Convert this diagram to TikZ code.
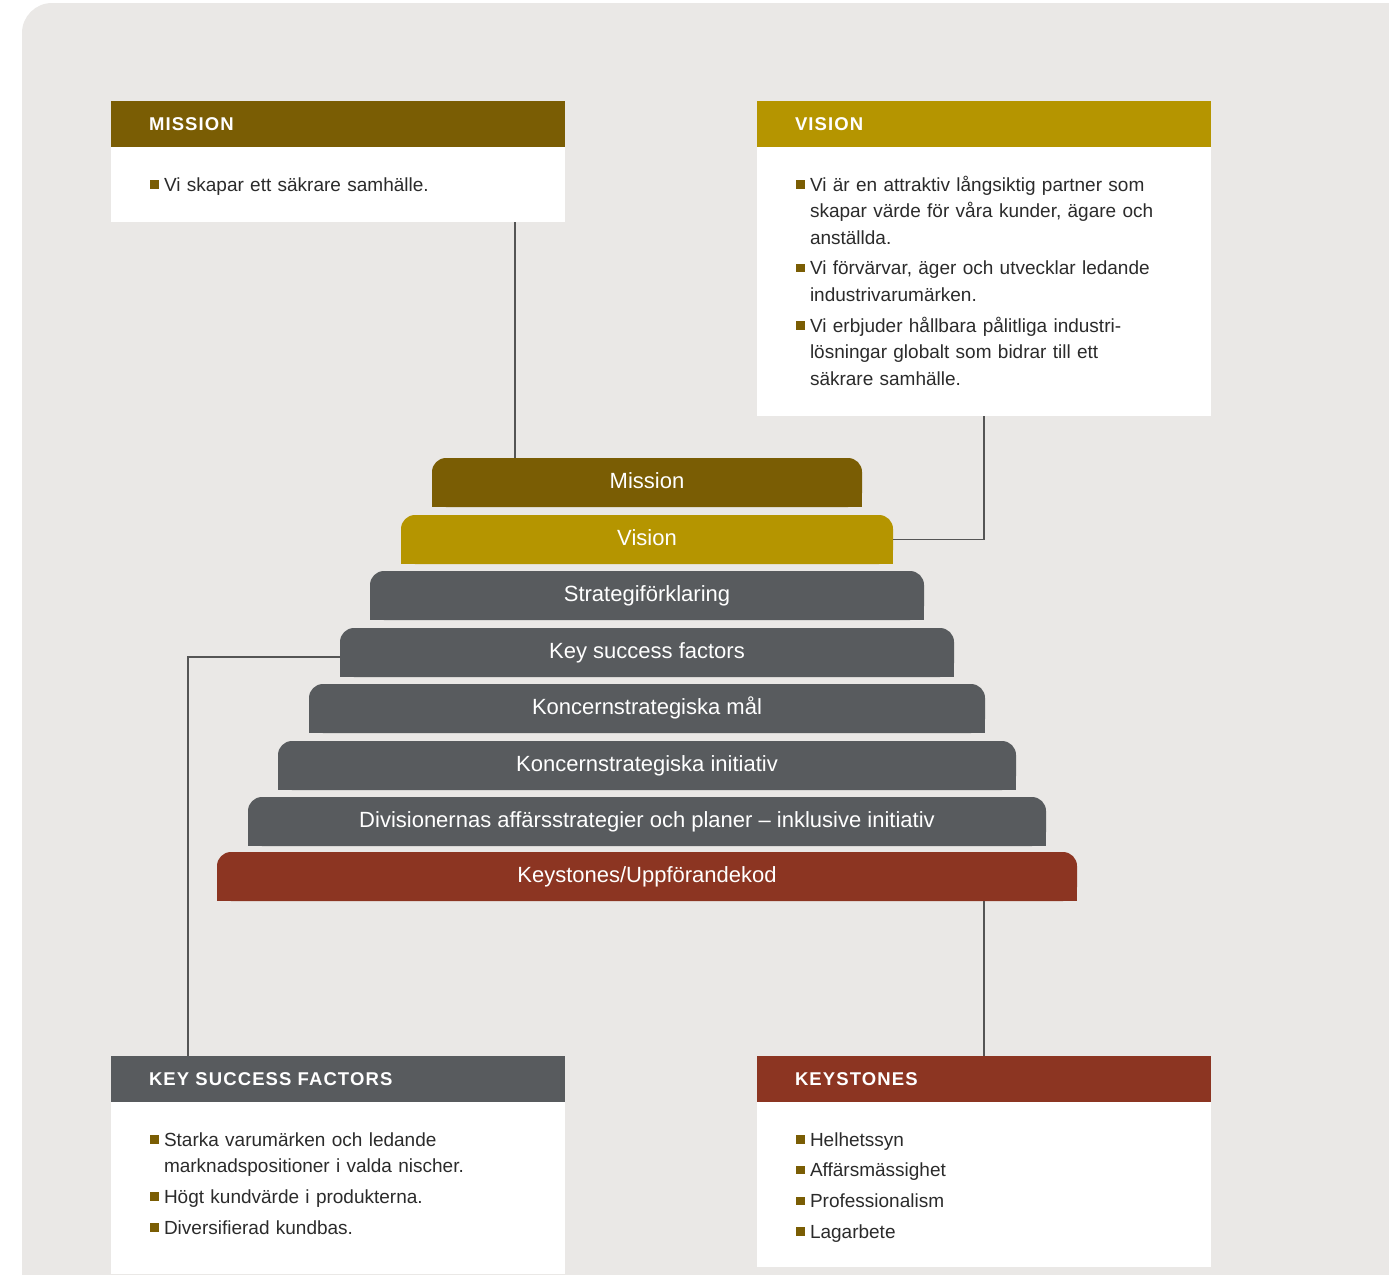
\documentclass[tikz,border=0pt]{standalone}
\usepackage{fontspec}
\setmainfont{Liberation Sans}
\newfontfamily\capsfont[LetterSpace=6]{Liberation Sans}
\usetikzlibrary{positioning,backgrounds}

\definecolor{bggray}{HTML}{EAE8E6}
\definecolor{mbrown}{HTML}{7A5D04}
\definecolor{vgold}{HTML}{B59500}
\definecolor{slate}{HTML}{585B5E}
\definecolor{keyred}{HTML}{8C3522}
\definecolor{txtgray}{HTML}{2B2B2B}
\definecolor{linkgray}{HTML}{555555}

\newcommand{\bitem}[1]{\noindent\hangindent=14pt\hangafter=1\makebox[14pt][l]{\textcolor{mbrown}{\rule[2.5pt]{8.5pt}{8.5pt}}}\rule{0pt}{16pt}#1\par}

\tikzset{
	head/.style={anchor=north west, inner xsep=38pt, inner ysep=0pt, outer sep=0pt, text width=378pt, minimum height=46pt, align=left, text=white, font=\capsfont\bfseries\fontsize{18.5}{20}\selectfont, text height=13.3pt, text depth=0pt},
	bodybox/.style={fill=white, minimum width=454pt, inner sep=0pt, outer sep=0pt},
	bodytext/.style={inner sep=0pt, outer sep=0pt, text width=400pt, align=left, text=txtgray, font=\fontsize{19}{26.5}\selectfont\setlength{\parskip}{4.3pt}\setlength{\parindent}{0pt}},
	stair/.style={minimum height=49pt, rounded corners=14pt, inner sep=0pt, outer sep=0pt, text=white, font=\fontsize{22}{24}\selectfont, text height=16pt, text depth=5pt},
	link/.style={draw=linkgray, line width=1.1pt}
}

\begin{document}
\begin{tikzpicture}[x=1pt, y=-1pt]
	\useasboundingbox (0,0) rectangle (1389,1274);

	% boxes
	\node[head, fill=mbrown] (mhead) at (111,101) {MISSION};
	\node[bodybox, minimum height=75pt, below=0pt of mhead] (mbody) {};
	\node[bodytext, below right=28pt and 39pt of mhead.south west] (mtext) {\bitem{Vi skapar ett säkrare samhälle.}};

	\node[head, fill=vgold] (vhead) at (757,101) {VISION};
	\node[bodybox, minimum height=269pt, below=0pt of vhead] (vbody) {};
	\node[bodytext, below right=28pt and 39pt of vhead.south west] (vtext) {\bitem{Vi är en attraktiv långsiktig partner som\newline skapar värde för våra kunder, ägare och\newline anställda.}\bitem{Vi förvärvar, äger och utvecklar ledande\newline industrivarumärken.}\bitem{Vi erbjuder hållbara pålitliga industri-\newline lösningar globalt som bidrar till ett\newline säkrare samhälle.}};

	\node[head, fill=slate] (khead) at (111,1056) {KEY SUCCESS FACTORS};
	\node[bodybox, minimum height=172pt, below=0pt of khead] (kbody) {};
	\node[bodytext, below right=28pt and 39pt of khead.south west] (ktext) {\bitem{Starka varumärken och ledande\newline marknadspositioner i valda nischer.}\bitem{Högt kundvärde i produkterna.}\bitem{Diversifierad kundbas.}};

	\node[head, fill=keyred] (shead) at (757,1056) {KEYSTONES};
	\node[bodybox, minimum height=165pt, below=0pt of shead] (sbody) {};
	\node[bodytext, below right=28pt and 39pt of shead.south west] (stext) {\bitem{Helhetssyn}\bitem{Affärsmässighet}\bitem{Professionalism}\bitem{Lagarbete}};

	% pyramid
	\node[stair, fill=mbrown, minimum width=430pt] (bmission) at (647,482.5) {Mission};
	\node[stair, fill=vgold, minimum width=492pt] (bvision) at (647,539.5) {Vision};
	\node[stair, fill=slate, minimum width=554pt] (bstrategy) at (647,595.5) {Strategiförklaring};
	\node[stair, fill=slate, minimum width=614pt] (bksf) at (647,652.5) {Key success factors};
	\node[stair, fill=slate, minimum width=676pt] (bgoals) at (647,708.5) {Koncernstrategiska mål};
	\node[stair, fill=slate, minimum width=738pt] (binit) at (647,765.5) {Koncernstrategiska initiativ};
	\node[stair, fill=slate, minimum width=798pt] (bdiv) at (647,821.5) {Divisionernas affärsstrategier och planer – inklusive initiativ};
	\node[stair, fill=keyred, minimum width=860pt] (bkey) at (647,876.5) {Keystones/Uppförandekod};

	% links
	\coordinate (mfoot) at ([xshift=83pt]bmission.north west);
	\draw[link] (mfoot) -- (mfoot |- mbody.south);
	\draw[link] (bvision.east) -| (vbody.south);
	\coordinate (kturn) at ([yshift=-4.5pt]bksf.west);
	\draw[link] (kturn) -| ([xshift=77pt]khead.north west);
	\draw[link] (shead.north |- bkey.south) -- (shead.north);

	\begin{scope}[on background layer]
		\fill[bggray, rounded corners=30pt] (22,3) rectangle (1430,1320);
		\foreach \b/\c in {bmission/mbrown, bvision/vgold, bstrategy/slate, bksf/slate, bgoals/slate, binit/slate, bdiv/slate, bkey/keyred}
			\fill[\c] (\b.south west) rectangle (\b.east);
	\end{scope}
\end{tikzpicture}
\end{document}
